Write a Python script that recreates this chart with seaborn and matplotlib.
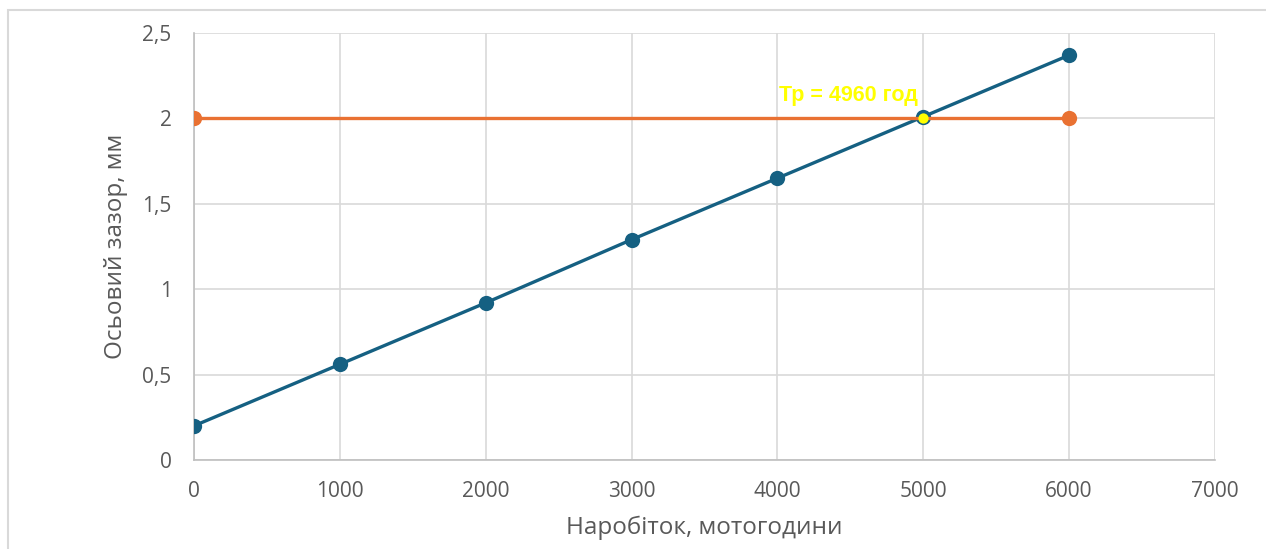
import pandas as pd
import matplotlib.pyplot as plt
import seaborn as sns
from matplotlib.ticker import FuncFormatter, MultipleLocator
from matplotlib.patches import Rectangle

# дані
narobitok = [0, 1000, 2000, 3000, 4000, 5000, 6000]
zazor = [0.2, 0.56, 0.92, 1.29, 1.65, 2.01, 2.37]
granytsia_x = [0, 6000]
granytsia_y = [2, 2]
tr_x = [5000]
tr_y = [2.0]
tr_label = "Тр = 4960 год"

sns.set_theme(style="whitegrid")
plt.rcParams['font.family'] = ['Open Sans', 'DejaVu Sans']

fig = plt.figure(figsize=(12.66, 5.49), dpi=100)
ax = fig.add_axes([0.1532, 0.1621, 0.8065, 0.7778])

df_zazor = pd.DataFrame({"x": narobitok, "y": zazor})
df_gran = pd.DataFrame({"x": granytsia_x, "y": granytsia_y})

sns.lineplot(data=df_zazor, x="x", y="y", ax=ax, color="#156082", linewidth=2.4,
             marker="o", markersize=11, markeredgewidth=0, zorder=3)
sns.lineplot(data=df_gran, x="x", y="y", ax=ax, color="#E97132", linewidth=2.4,
             marker="o", markersize=11, markeredgewidth=0, zorder=4)
ax.scatter(tr_x, tr_y, s=55, color="#FFFF00", zorder=5, linewidths=0)

ax.text(4490, 2.135, tr_label, color="#FFFF00", fontsize=15.5, fontweight="bold",
        ha="center", va="center", family=["Liberation Sans", "DejaVu Sans"], zorder=6)

ax.set_xlim(0, 7000)
ax.set_ylim(0, 2.5)
ax.xaxis.set_major_locator(MultipleLocator(1000))
ax.yaxis.set_major_locator(MultipleLocator(0.5))
ax.yaxis.set_major_formatter(FuncFormatter(lambda v, p: f"{v:g}".replace(".", ",")))

ax.grid(True, color="#d9d9d9", linewidth=1.2)
for s in ["top", "right"]:
    ax.spines[s].set_visible(False)
for s in ["left", "bottom"]:
    ax.spines[s].set_color("#bfbfbf")
    ax.spines[s].set_linewidth(1.2)

ax.tick_params(axis="both", labelsize=15, colors="#595959", length=0)
ax.tick_params(axis="x", pad=15)
ax.tick_params(axis="y", pad=16)

ax.set_xlabel("Наробіток, мотогодини", fontsize=17.5, color="#595959", labelpad=10)
ax.set_ylabel("Осьовий зазор, мм", fontsize=17.5, color="#595959", labelpad=10)

# рамка діаграми
fig.patches.append(Rectangle((8 / 1266, -0.1), 1.2, 1 - 10 / 549 + 0.1,
                             transform=fig.transFigure, fill=False,
                             edgecolor="#d9d9d9", linewidth=1.5))

fig.savefig("out.png", dpi=100, facecolor="white")
